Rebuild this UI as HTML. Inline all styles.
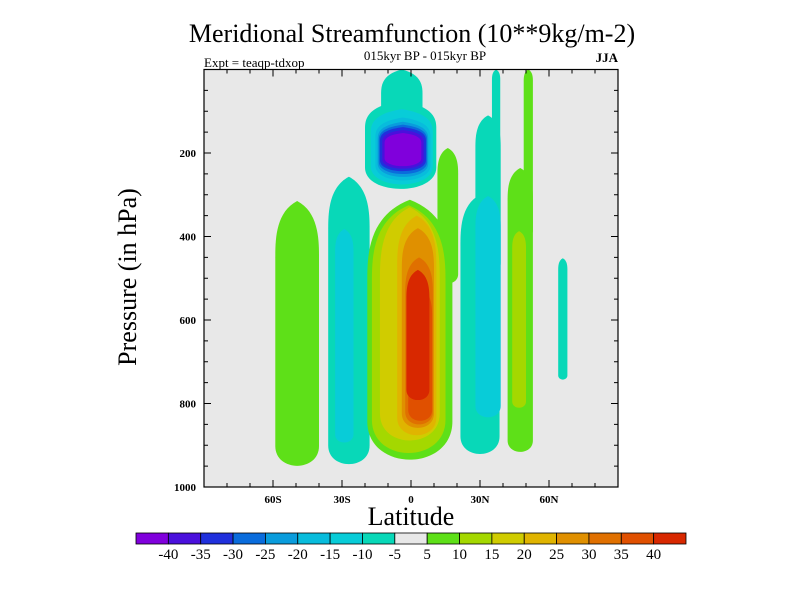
<!DOCTYPE html>
<html><head><meta charset="utf-8"><style>
body{margin:0;background:#fff}svg{display:block}
text{font-family:"Liberation Serif",serif;fill:#000}
</style></head><body>
<svg id="c" width="800" height="600">
<text x="412" y="42" font-size="26" text-anchor="middle">Meridional Streamfunction (10**9kg/m-2)</text>
<text x="425" y="60" font-size="13" text-anchor="middle">015kyr BP - 015kyr BP</text>
<text x="204" y="67" font-size="13">Expt = teaqp-tdxop</text>
<text x="618" y="62" font-size="13" font-weight="bold" text-anchor="end">JJA</text>
<text transform="translate(136,277) rotate(-90)" font-size="26" text-anchor="middle">Pressure (in hPa)</text>
<text x="411" y="525" font-size="26" text-anchor="middle">Latitude</text>
<g id="plot"></g>
<g id="axes"></g>
<g id="cbar"></g>
</svg>
<script>
const levels=[-40,-35,-30,-25,-20,-15,-10,-5,5,10,15,20,25,30,35,40];
const colors=["#8000dc","#4a10dc","#2030dc","#0a6cdc","#0a9cdc","#08bcdc","#08ccd8","#08d8b8","#e8e8e8","#5ee018","#a4d800","#d0cc00","#e0b400","#e09000","#e07000","#e05000","#d82800"];
const yTicks=[200,400,600,800,1000];
const xTicks=[-60,-30,0,30,60];
const xTickLabels=["60S","30S","0","30N","60N"];
// blobs: [lat centre, lat half-width, p top, p bottom, value]
const blobLat=[-49.5,-27,-29, -4,-4.5,-4,-3.5,-3.5,-3.5,-3.5,-3.5,-3.5, -0.5,16,-1,-0.5,2.5,3,3.5,4,3, 30,37,33.5,33.5, 47.5,51,47, 66];
const blobHalfW=[9.5,9,4, 9,15.5,13.5,12,11,10.5,10,9,8, 18.5,4.5,16,13,8.5,7,6,5.2,5, 8.5,1.8,5.5,5.5, 5.5,2,3, 2];
const blobTop=[315,257,382, 0,75,95,115,125,132,138,145,152, 312,188,325,330,350,380,450,520,480, 300,0,110,303, 236,0,387, 452];
const blobBot=[965,960,900, 200,303,290,278,268,260,252,245,238, 965,520,945,910,890,870,860,850,800, 935,400,500,842, 925,400,815, 746];
const blobVal=[7,-7,-12, -7,-7,-12,-17,-22,-27,-32,-37,-42, 7,7,12,17,22,27,32,37,42, -7,-7,-7,-12, 7,7,12, -7];
const X0=204,X1=618,Y0=69.5,Y1=487;
const xs=l=>X0+(l+90)/180*(X1-X0);
const ys=p=>Y0+p/1000*(Y1-Y0);
const NS="http://www.w3.org/2000/svg";
function mk(t,a,parent){const e=document.createElementNS(NS,t);for(const k in a)e.setAttribute(k,a[k]);parent.appendChild(e);return e;}
function colorOf(v){let i=0;while(i<levels.length&&v>levels[i])i++;return colors[i];}
const plot=document.getElementById('plot');
const bg=mk('rect',{x:X0,y:Y0,width:X1-X0,height:Y1-Y0,fill:'#e8e8e8'},plot);


const cp=mk('clipPath',{id:'cp'},plot);mk('rect',{x:X0,y:Y0,width:X1-X0,height:Y1-Y0},cp);
const g=mk('g',{'clip-path':'url(#cp)'},plot);
for(let i=0;i<blobLat.length;i++){
  const xl=xs(blobLat[i]-blobHalfW[i]),xr=xs(blobLat[i]+blobHalfW[i]),xc=(xl+xr)/2,w=xr-xl;
  const yt=ys(blobTop[i]),yb=ys(blobBot[i]),h=yb-yt;
  const tt=Math.min(h*0.3,w*1.3),tb=Math.min(h*0.3,w*0.6);
  const d=`M${xc},${yt} C${xr},${yt+tt*0.2} ${xr},${yt+tt*0.7} ${xr},${yt+tt} L${xr},${yb-tb} C${xr},${yb} ${xl},${yb} ${xl},${yb-tb} L${xl},${yt+tt} C${xl},${yt+tt*0.7} ${xl},${yt+tt*0.2} ${xc},${yt} Z`;
  const r=mk('path',{d:d,fill:colorOf(blobVal[i])},g);
  
  
}
const ax=document.getElementById('axes');
const fr=mk('rect',{x:X0,y:Y0,width:X1-X0,height:Y1-Y0,fill:'none',stroke:'#000','stroke-width':1.2},ax);


for(let p=50;p<=1000;p+=50){const y=ys(p),L=p%200==0?7:4;
  mk('line',{x1:X0,x2:X0+L,y1:y,y2:y,stroke:'#000'},ax);mk('line',{x1:X1,x2:X1-L,y1:y,y2:y,stroke:'#000'},ax);}
for(let l=-80;l<=80;l+=10){const x=xs(l),L=l%30==0?7:4;
  mk('line',{x1:x,x2:x,y1:Y1,y2:Y1-L,stroke:'#000'},ax);mk('line',{x1:x,x2:x,y1:Y0,y2:Y0+L,stroke:'#000'},ax);}
yTicks.forEach(p=>{const t=mk('text',{x:X0-8,y:ys(p)+4,'font-size':11,'font-weight':'bold','text-anchor':'end'},ax);t.textContent=p;
  
  });
xTicks.forEach((l,i)=>{const t=mk('text',{x:xs(l),y:Y1+16,'font-size':11,'font-weight':'bold','text-anchor':'middle'},ax);t.textContent=xTickLabels[i];
  
  });
const cb=document.getElementById('cbar');const CX=136,CW=550,CY=533,CH=11,bw=CW/colors.length;
colors.forEach((c,i)=>{const r=mk('rect',{x:CX+i*bw,y:CY,width:bw,height:CH,fill:c,stroke:'#000','stroke-width':0.8},cb);
  
  });
levels.forEach((v,i)=>{const t=mk('text',{x:CX+(i+1)*bw,y:CY+26,'font-size':15,'text-anchor':'middle'},cb);t.textContent=v;
  
  });
</script>
</body></html>
